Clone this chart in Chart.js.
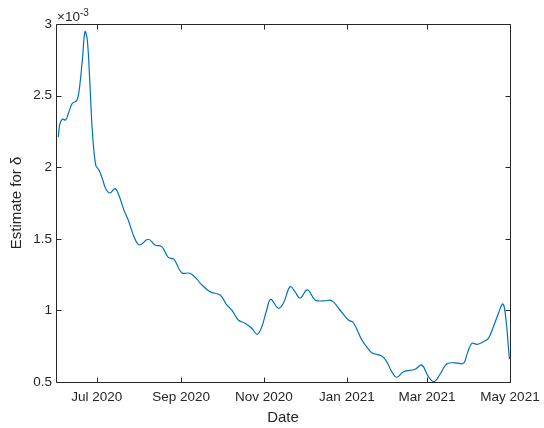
<!DOCTYPE html>
<html>
<head>
<meta charset="utf-8">
<script src="https://cdn.jsdelivr.net/npm/chart.js@4/dist/chart.umd.min.js"></script>
<style>html,body{margin:0;padding:0;background:#fff}canvas{display:block}</style>
</head>
<body>
<canvas id="chart" width="544" height="428"></canvas>
<script>
// Days since 1 June 2020 for each estimate
const dayOffsets = [
  1.7, 2.7, 4.6, 7.1, 9.6, 12.0, 15.2, 16.9, 19.4, 21.3, 23.0, 24.8, 26.7, 29.2,
  31.6, 34.1, 36.6, 39.7, 43.4, 46.4, 50.0, 53.2, 56.9, 61.3, 67.9, 72.8, 77.8,
  82.6, 86.8, 92.5, 98.6, 103.5, 106.0, 113.3, 120.7, 125.6, 129.3, 134.1, 139.1,
  144.0, 148.1, 151.4, 155.0, 158.0, 163.6, 167.3, 172.2, 175.9, 179.5, 184.9,
  190.6, 196.7, 202.9, 208.5, 215.1, 218.8, 225.0, 228.6, 232.3, 239.7, 243.3,
  247.0, 250.7, 255.6, 264.2, 269.1, 274.0, 278.1, 282.6, 287.5, 293.6, 299.7,
  302.6, 305.9, 309.8, 314.4, 318.1, 321.8, 325.5, 328.4, 329.7, 331.6, 332.8, 333.6
];
// Estimate for delta, in units of 1e-3
const estimates = [
  2.21, 2.295, 2.335, 2.33, 2.39, 2.446, 2.465, 2.527, 2.75, 2.946, 2.89, 2.61, 2.26, 2.015,
  1.98, 1.92, 1.85, 1.82, 1.85, 1.80, 1.70, 1.63, 1.527, 1.457, 1.497, 1.457, 1.445,
  1.37, 1.357, 1.263, 1.259, 1.22, 1.19, 1.13, 1.107, 1.038, 1.003, 0.933, 0.91,
  0.875, 0.833, 0.886, 1.003, 1.077, 1.015, 1.05, 1.165, 1.13, 1.085, 1.143,
  1.073, 1.066, 1.068, 1.008, 0.933, 0.914, 0.793, 0.746, 0.705, 0.682, 0.642,
  0.572, 0.533, 0.572, 0.589, 0.618, 0.537, 0.502, 0.556, 0.626, 0.634, 0.63,
  0.70, 0.77, 0.763, 0.781, 0.805, 0.886, 0.98, 1.045, 1.026, 0.886, 0.746, 0.66
];
// X-axis ticks (days since 1 June 2020) and their labels
const xTickDays = [30, 92, 153, 214, 273, 334];
const xTickLabels = ['Jul 2020', 'Sep 2020', 'Nov 2020', 'Jan 2021', 'Mar 2021', 'May 2021'];
const yTickValues = [0.5, 1, 1.5, 2, 2.5, 3];

const FONT = '"Liberation Sans", Arial, Helvetica, sans-serif';
const INK = '#262626';

// Axis box with inward tick marks on all four sides, plus the exponent label
const boxPlugin = {
  id: 'boxTicks',
  afterDraw(chart) {
    const { ctx, chartArea: a, scales } = chart;
    const L = Math.round(a.left) + 0.5, R = Math.round(a.right) + 0.5;
    const T = Math.round(a.top) + 0.5, B = Math.round(a.bottom) + 0.5;
    const len = 5;
    ctx.save();
    ctx.strokeStyle = INK;
    ctx.lineWidth = 1;
    ctx.beginPath();
    ctx.rect(L, T, R - L, B - T);
    xTickDays.forEach(d => {
      const x = Math.round(scales.x.getPixelForValue(d)) + 0.5;
      ctx.moveTo(x, B); ctx.lineTo(x, B - len);
      ctx.moveTo(x, T); ctx.lineTo(x, T + len);
    });
    yTickValues.forEach(v => {
      const y = Math.round(scales.y.getPixelForValue(v)) + 0.5;
      ctx.moveTo(L, y); ctx.lineTo(L + len, y);
      ctx.moveTo(R, y); ctx.lineTo(R - len, y);
    });
    ctx.stroke();
    // ×10^-3 multiplier above the y axis
    ctx.fillStyle = INK;
    ctx.textBaseline = 'alphabetic';
    ctx.textAlign = 'left';
    ctx.font = '13.5px ' + FONT;
    const base = '\u00d710';
    ctx.fillText(base, a.left + 1, a.top - 3.5);
    const w = ctx.measureText(base).width;
    ctx.font = '10px ' + FONT;
    ctx.fillText('-3', a.left + 1 + w, a.top - 8.5);
    ctx.restore();
  }
};

new Chart(document.getElementById('chart'), {
  type: 'line',
  data: {
    datasets: [{
      data: dayOffsets.map((d, i) => ({ x: d, y: estimates[i] })),
      borderColor: '#0072BD',
      borderWidth: 1.2,
      pointRadius: 0,
      tension: 0.4,
      fill: false
    }]
  },
  options: {
    responsive: false,
    animation: false,
    layout: { padding: { left: 0, right: 34, top: 24, bottom: 0 } },
    plugins: { legend: { display: false }, tooltip: { enabled: false } },
    scales: {
      x: {
        type: 'linear',
        min: 0,
        max: 334,
        afterBuildTicks: s => { s.ticks = xTickDays.map(v => ({ value: v })); },
        afterFit: s => { s.height = 46; s.paddingLeft = 0; s.paddingRight = 0; },
        grid: { display: false, drawTicks: false },
        border: { display: false },
        ticks: {
          autoSkip: false,
          maxRotation: 0,
          padding: 7,
          color: INK,
          font: { family: FONT, size: 13.5 },
          callback: v => xTickLabels[xTickDays.indexOf(v)]
        },
        title: {
          display: true,
          text: 'Date',
          color: INK,
          font: { family: FONT, size: 15 },
          padding: { top: 0, bottom: 1 }
        }
      },
      y: {
        min: 0.5,
        max: 3,
        afterBuildTicks: s => { s.ticks = yTickValues.map(v => ({ value: v })); },
        afterFit: s => { s.width = 56; s.paddingTop = 0; s.paddingBottom = 0; },
        grid: { display: false, drawTicks: false },
        border: { display: false },
        ticks: {
          padding: 4,
          color: INK,
          font: { family: FONT, size: 13.5 },
          callback: v => String(v)
        },
        title: {
          display: true,
          text: 'Estimate for \u03b4',
          color: INK,
          font: { family: FONT, size: 15 },
          padding: { top: 8, bottom: 0 }
        }
      }
    }
  },
  plugins: [boxPlugin]
});
</script>
</body>
</html>
